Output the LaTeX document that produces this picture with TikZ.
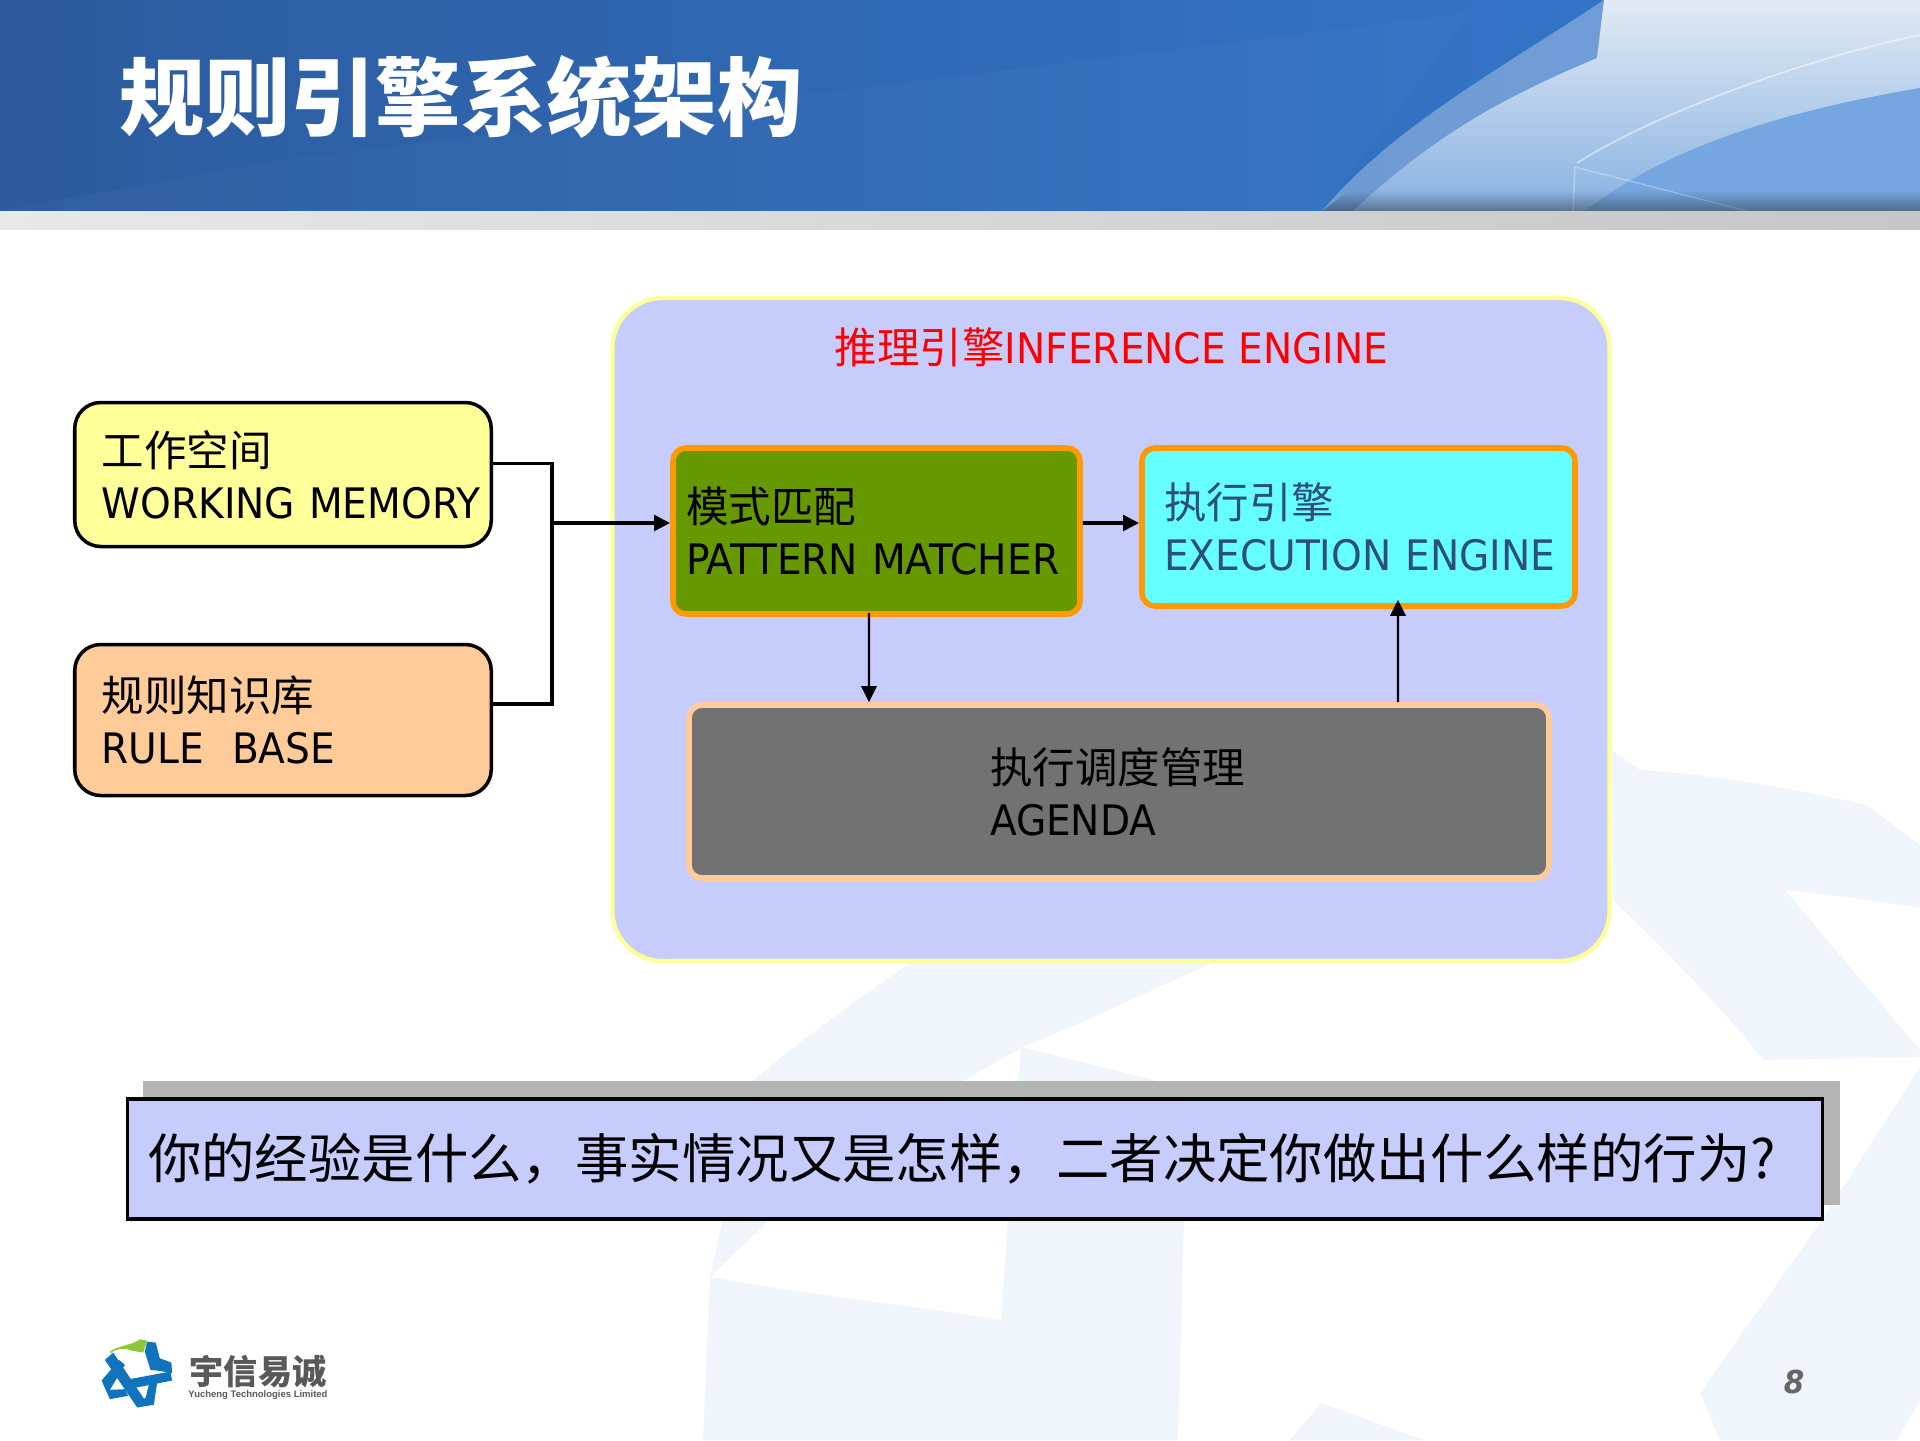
\documentclass[tikz,border=0pt]{standalone}
\usepackage{fontspec}
\setmainfont[FakeStretch=1.035]{DejaVu Sans Condensed}
\newfontfamily\cjk[Scale=1.012]{Noto Sans CJK SC}
\newfontfamily\logofont{Liberation Sans}
\usetikzlibrary{arrows.meta}
\usetikzlibrary{fadings}
\definecolor{engineblue}{HTML}{C6CCFC}
\definecolor{paleyellow}{HTML}{FFFF99}
\definecolor{paleorange}{HTML}{FFCC99}
\definecolor{matchgreen}{HTML}{669900}
\definecolor{brightorange}{HTML}{FF9900}
\definecolor{execcyan}{HTML}{66FFFF}
\definecolor{exectext}{HTML}{2E4E7E}
\definecolor{agendagray}{HTML}{727272}
\definecolor{watermark}{HTML}{F0F5FC}
\definecolor{logoblue}{HTML}{0F73BE}
\definecolor{logogreen}{HTML}{8CC63F}
\definecolor{headerleft}{HTML}{2C5B9E}
\definecolor{headermid}{HTML}{2F72C8}
\definecolor{headerright}{HTML}{3579CF}
\definecolor{swathtop}{HTML}{E2EAF4}
\definecolor{swathbottom}{HTML}{88B2E2}
\definecolor{lowerarc}{HTML}{76A6DF}
\definecolor{bandleft}{HTML}{E8E8E8}
\definecolor{bandright}{HTML}{C6C6C6}
\begin{document}
\begin{tikzpicture}[>={Triangle[length=4.6pt,width=4.4pt]},x=1cm,y=-1cm,
  textpad/.style={execute at begin node={\leftskip=#1\relax}},
  boxtext/.style={align=left,inner xsep=0pt,inner ysep=0pt,font=\fontsize{11.95}{14.7}\selectfont},
  sidebox/.style={boxtext,draw=black,line width=1pt,rounded corners=0.26cm,text width=4.165cm,textpad=0.27cm},
  innerbox/.style={boxtext,rounded corners=0.13cm,line width=1.6pt},
  thickline/.style={line width=1.1pt},
  thinline/.style={line width=0.6pt}]
\useasboundingbox (0,0) rectangle (19.2,14.4);
\fill[watermark] (16.12,7.5) -- (16.4,7.7) .. controls (17.2,7.75) and (18.0,7.9) .. (18.67,8.05) -- (19.2,8.45) -- (19.2,9.08) .. controls (18.7,9.0) and (18.3,8.95) .. (17.85,8.9) -- (19.2,10.5) -- (19.2,10.57) -- (17.63,10.6) .. controls (17.2,10.05) and (16.6,9.45) .. (16.13,9.0) -- cycle;
\fill[watermark] (19.2,10.67) -- (18.22,12.2) -- (17,13.93) -- (17.2,14.4) -- (18.97,14.4) -- (19.2,14.0) -- cycle;
\fill[watermark] (10.21,10.47) -- (11.93,10.9) -- (11.84,12.2) -- (11.78,14.4) -- (7.03,14.4) -- (7.1,12.77) .. controls (8.1,12.95) and (9.1,13.05) .. (10.01,13.2) -- (10.08,12.2) -- cycle;
\fill[watermark] (9.1,9.63) -- (12.12,9.63) .. controls (11.4,9.95) and (10.8,10.25) .. (10.22,10.47) -- (9.48,10.9) -- (7.69,12.2) -- (7.1,12.77) -- (7.53,10.81) .. controls (8.0,10.4) and (8.5,10.05) .. (9.1,9.63) -- cycle;
\fill[watermark] (13.21,14.03) -- (14.24,14.4) -- (12.9,14.4) -- cycle;
\shade[left color=headerleft,middle color=headermid,right color=headerright] (0,0) rectangle (19.2,2.11);
\fill[white,opacity=0.025] (2.8,1.6) -- (14.7,0.13) -- (13.22,2.11) -- (0,2.11) -- cycle;
\fill[white,opacity=0.3] (13.22,2.11) .. controls (13.9,1.3) and (14.9,0.75) .. (16.04,0) -- (19.2,0) -- (19.2,2.11) -- cycle;
\shade[top color=swathtop,bottom color=swathbottom] (13.53,2.11) .. controls (14.4,1.3) and (15.1,0.95) .. (15.97,0.58) -- (16.04,0) -- (19.2,0) -- (19.2,2.11) -- cycle;
\fill[lowerarc] (15.85,2.11) .. controls (16.7,1.45) and (17.9,1.1) .. (19.2,0.88) -- (19.2,2.11) -- cycle;
\draw[white,opacity=0.5,line width=0.5pt] (15.77,1.63) .. controls (16.6,1.1) and (18.2,0.55) .. (19.2,0.35);
\draw[white,opacity=0.3,line width=0.4pt] (15.75,1.67) -- (17.47,2.11);
\draw[white,opacity=0.3,line width=0.4pt] (15.75,1.67) -- (15.73,2.11);
\fill[black,path fading=north,opacity=0.35] (13.22,2.11) -- (13.5,1.9) -- (19.2,1.9) -- (19.2,2.11) -- cycle;
\shade[left color=bandleft,right color=bandright] (0,2.11) rectangle (19.2,2.29);
\node[white,anchor=west,inner sep=0pt,font=\fontsize{24}{29}\selectfont\cjk\bfseries] (title) at (1.19,0.97) {规则引擎系统架构};
\fill[black!30,opacity=0.97] (1.43,10.81) rectangle (18.4,12.05);
\node[draw=paleyellow,fill=engineblue,line width=1.2pt,rounded corners=0.5cm,minimum width=9.97cm,minimum height=6.63cm] (engine) at (11.11,6.295) {};
\node[red,font=\fontsize{11.95}{14.7}\selectfont,inner sep=0pt] (enginetitle) at (11.115,3.47) {{\cjk 推理引擎}INFERENCE ENGINE};
\node[sidebox,fill=paleyellow,minimum height=1.44cm] (memory) at (2.83,4.745) {{\cjk 工作空间}\\WORKING MEMORY};
\node[sidebox,fill=paleorange,minimum height=1.51cm] (rules) at (2.83,7.2) {{\cjk 规则知识库}\\RULE\ \ BASE};
\node[innerbox,draw=brightorange,fill=matchgreen,text width=4.07cm,textpad=0.13cm,minimum height=1.66cm] (matcher) at (8.765,5.31) {{\cjk 模式匹配}\\PATTERN MATCHER};
\node[innerbox,draw=brightorange,fill=execcyan,text=exectext,text width=4.33cm,textpad=0.22cm,minimum height=1.58cm] (exec) at (13.585,5.27) {{\cjk 执行引擎}\\EXECUTION ENGINE};
\node[innerbox,draw=paleorange,fill=agendagray,text width=8.6cm,textpad=3.01cm,minimum height=1.73cm] (agenda) at (11.19,7.915) {{\cjk 执行调度管理}\\AGENDA};
\coordinate (junction) at (5.52,5.23);
\draw[thickline] ([yshift=0.11cm]memory.east) -| ([yshift=0.16cm]rules.east -| junction) -- ([yshift=0.16cm]rules.east);
\draw[->,thickline] (junction) -- ([yshift=0.08cm]matcher.west);
\draw[->,thickline] ([yshift=0.08cm]matcher.east) -- ([yshift=0.04cm]exec.west);
\draw[->,thinline,shorten <=-0.04cm] ([xshift=-0.075cm]matcher.south) -- ([xshift=-2.5cm]agenda.north);
\draw[->,thinline,shorten >=-0.09cm] ([xshift=2.79cm]agenda.north) -- ([xshift=0.395cm]exec.south);
\node[draw=black,fill=engineblue,line width=1pt,align=left,inner xsep=0pt,inner ysep=0pt,text width=16.95cm,textpad=0.205cm,minimum height=1.2cm,font=\fontsize{15.02}{18}\selectfont\cjk] (question) at (9.75,11.59) {你的经验是什么，事实情况又是怎样，二者决定你做出什么样的行为?};
\begin{scope}[shift={(0.6,13.1)},x=0.00333cm,y=-0.00333cm]
\fill[logogreen] (150,125) .. controls (180,105) and (220,105) .. (240,88) -- (262,92) -- (250,128) -- (215,122) .. controls (195,112) and (170,115) .. (152,130) -- cycle;
\fill[logoblue] (262,95) -- (288,98) -- (300,145) -- (335,158) -- (337,190) -- (300,183) -- (272,180) -- (255,125) -- cycle;
\fill[logoblue] (208,208) -- (332,185) -- (337,212) -- (272,225) -- (212,236) -- cycle;
\fill[logoblue] (135,150) -- (160,128) -- (258,275) -- (232,293) -- cycle;
\fill[logoblue] (178,150) -- (195,165) -- (150,240) -- (195,238) -- (205,258) -- (150,268) -- (125,212) -- cycle;
\fill[logoblue] (268,222) -- (292,218) -- (282,285) -- (232,293) -- (258,262) -- cycle;
\end{scope}
\node[black!65,font=\fontsize{9.6}{11}\selectfont\cjk\bfseries,inner sep=0pt] (logotext) at (2.58,13.71) {宇信易诚};
\node[black!65,font=\fontsize{2.7}{3}\selectfont\logofont\bfseries,inner sep=0pt] (logosub) at (2.58,13.955) {Yucheng Technologies Limited};
\node[black!60,font=\fontsize{9}{11}\selectfont\bfseries\itshape,inner sep=0pt] (pagenum) at (17.94,13.82) {8};
\end{tikzpicture}
\end{document}
